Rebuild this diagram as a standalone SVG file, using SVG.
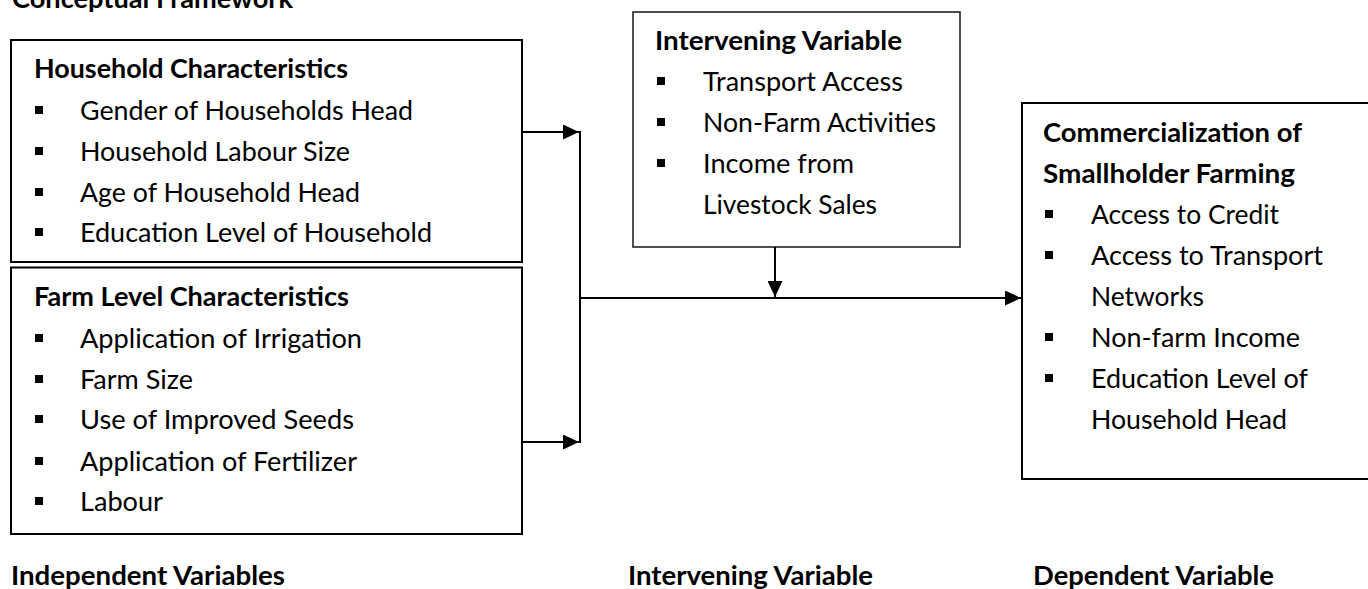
<svg xmlns="http://www.w3.org/2000/svg" width="1368" height="589" viewBox="0 0 1368 589">
<defs>
<style>
text{font-family:Lato,"Liberation Sans",sans-serif;font-size:26.5px;fill:#000}
.b{font-weight:bold}
.box{fill:#fff;stroke:#000;stroke-width:2}
.bul{fill:#000}
.con{fill:none;stroke:#000;stroke-width:2}
</style>
<marker id="ah" markerUnits="userSpaceOnUse" markerWidth="16" markerHeight="15" refX="16" refY="7.5" orient="auto">
<path d="M0,0 L16,7.5 L0,15 z" fill="#000"/>
</marker>
</defs>
<rect width="1368" height="589" fill="#fff"/>
<text id="title" class="b" x="12" y="8" textLength="281" lengthAdjust="spacingAndGlyphs">Conceptual Framework</text>

<g id="household">
<rect class="box" x="11" y="40" width="511" height="222"/>
<text class="b" x="34" y="78" textLength="314" lengthAdjust="spacingAndGlyphs">Household Characteristics</text>
<rect class="bul" x="35" y="106" width="8" height="8"/>
<text x="80" y="120" textLength="333" lengthAdjust="spacingAndGlyphs">Gender of Households Head</text>
<rect class="bul" x="35" y="147" width="8" height="8"/>
<text x="80" y="161" textLength="270" lengthAdjust="spacingAndGlyphs">Household Labour Size</text>
<rect class="bul" x="35" y="188" width="8" height="8"/>
<text x="80" y="202" textLength="280" lengthAdjust="spacingAndGlyphs">Age of Household Head</text>
<rect class="bul" x="35" y="228" width="8" height="8"/>
<text x="80" y="242" textLength="352" lengthAdjust="spacingAndGlyphs">Education Level of Household</text>
</g>

<g id="farm">
<rect class="box" x="11" y="267.5" width="511" height="266.5"/>
<text class="b" x="34" y="306" textLength="315" lengthAdjust="spacingAndGlyphs">Farm Level Characteristics</text>
<rect class="bul" x="35" y="334" width="8" height="8"/>
<text x="80" y="348" textLength="282" lengthAdjust="spacingAndGlyphs">Application of Irrigation</text>
<rect class="bul" x="35" y="375" width="8" height="8"/>
<text x="80" y="389" textLength="113" lengthAdjust="spacingAndGlyphs">Farm Size</text>
<rect class="bul" x="35" y="415" width="8" height="8"/>
<text x="80" y="429" textLength="274" lengthAdjust="spacingAndGlyphs">Use of Improved Seeds</text>
<rect class="bul" x="35" y="457" width="8" height="8"/>
<text x="80" y="471" textLength="277" lengthAdjust="spacingAndGlyphs">Application of Fertilizer</text>
<rect class="bul" x="35" y="497" width="8" height="8"/>
<text x="80" y="511" textLength="83" lengthAdjust="spacingAndGlyphs">Labour</text>
</g>

<g id="intervening">
<rect class="box" x="633" y="12" width="327" height="235" style="stroke-width:1.6;stroke:#222"/>
<text class="b" x="655" y="50" textLength="247" lengthAdjust="spacingAndGlyphs">Intervening Variable</text>
<rect class="bul" x="657" y="77" width="8" height="8"/>
<text x="703" y="91" textLength="200" lengthAdjust="spacingAndGlyphs">Transport Access</text>
<rect class="bul" x="657" y="118" width="8" height="8"/>
<text x="703" y="132" textLength="233" lengthAdjust="spacingAndGlyphs">Non-Farm Activities</text>
<rect class="bul" x="657" y="159" width="8" height="8"/>
<text x="703" y="173" textLength="151" lengthAdjust="spacingAndGlyphs">Income from</text>
<text x="703" y="214" textLength="174" lengthAdjust="spacingAndGlyphs">Livestock Sales</text>
</g>

<g id="commercialization">
<rect class="box" x="1022" y="103" width="360" height="376"/>
<text class="b" x="1043" y="142" textLength="259" lengthAdjust="spacingAndGlyphs">Commercialization of</text>
<text class="b" x="1043" y="183" textLength="252" lengthAdjust="spacingAndGlyphs">Smallholder Farming</text>
<rect class="bul" x="1045" y="210" width="8" height="8"/>
<text x="1091" y="224" textLength="188" lengthAdjust="spacingAndGlyphs">Access to Credit</text>
<rect class="bul" x="1045" y="251" width="8" height="8"/>
<text x="1091" y="265" textLength="232" lengthAdjust="spacingAndGlyphs">Access to Transport</text>
<text x="1091" y="306" textLength="113" lengthAdjust="spacingAndGlyphs">Networks</text>
<rect class="bul" x="1045" y="333" width="8" height="8"/>
<text x="1091" y="347" textLength="209" lengthAdjust="spacingAndGlyphs">Non-farm Income</text>
<rect class="bul" x="1045" y="374" width="8" height="8"/>
<text x="1091" y="388" textLength="217" lengthAdjust="spacingAndGlyphs">Education Level of</text>
<text x="1091" y="429" textLength="196" lengthAdjust="spacingAndGlyphs">Household Head</text>
</g>

<g id="labels">
<text class="b" x="11" y="585" textLength="274" lengthAdjust="spacingAndGlyphs">Independent Variables</text>
<text class="b" x="628" y="585" textLength="245" lengthAdjust="spacingAndGlyphs">Intervening Variable</text>
<text class="b" x="1033" y="585" textLength="241" lengthAdjust="spacingAndGlyphs">Dependent Variable</text>
</g>

<g id="connectors">
<path class="con" d="M522,132 H579" marker-end="url(#ah)"/>
<path class="con" d="M522,442 H579" marker-end="url(#ah)"/>
<path class="con" d="M580,131 V443"/>
<path class="con" d="M580,298 H1021" marker-end="url(#ah)"/>
<path class="con" d="M775,247 V297" marker-end="url(#ah)"/>
</g>
</svg>
